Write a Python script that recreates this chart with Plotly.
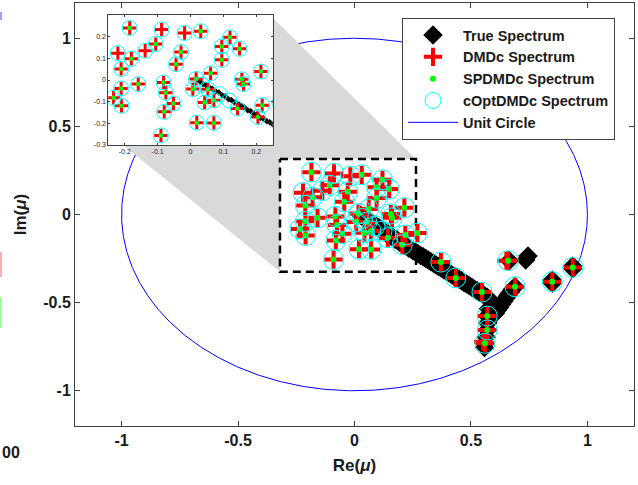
import numpy as np
import plotly.graph_objects as go

# ---------------------------------------------------------------------------
# Eigenvalue data (real / imaginary parts)
# ---------------------------------------------------------------------------

# True spectrum: dense band of eigenvalues plus isolated ones
true_re = [0.028, 0.038, 0.047, 0.058, 0.066, 0.077, 0.086, 0.097, 0.105, 0.116,
           0.124, 0.135, 0.144, 0.155, 0.163, 0.174, 0.183, 0.193, 0.202, 0.213,
           0.221, 0.232, 0.241, 0.251, 0.262, 0.273, 0.284, 0.295, 0.306, 0.317,
           0.328, 0.339, 0.350, 0.361, 0.372, 0.383, 0.394, 0.405, 0.416, 0.427,
           0.438, 0.449, 0.460, 0.471, 0.482, 0.493, 0.504, 0.515, 0.526, 0.537,
           0.548, 0.559, 0.570, 0.580,
           0.575, 0.570, 0.572, 0.570, 0.565, 0.560, 0.558,
           0.605, 0.614, 0.623, 0.632, 0.641, 0.650, 0.659, 0.668, 0.677, 0.689,
           0.665, 0.735, 0.745, 0.849, 0.849, 0.937, 0.937]
true_im = [-0.006, -0.018, -0.023, -0.036, -0.040, -0.053, -0.058, -0.071, -0.075, -0.089,
           -0.092, -0.105, -0.110, -0.122, -0.126, -0.140, -0.144, -0.157, -0.160, -0.174,
           -0.178, -0.190, -0.195, -0.205, -0.213, -0.222, -0.232, -0.240, -0.250, -0.258,
           -0.268, -0.277, -0.286, -0.295, -0.303, -0.314, -0.322, -0.331, -0.340, -0.350,
           -0.358, -0.368, -0.376, -0.387, -0.395, -0.404, -0.413, -0.424, -0.431, -0.442,
           -0.450, -0.461, -0.470, -0.482,
           -0.535, -0.576, -0.615, -0.655, -0.695, -0.731, -0.755,
           -0.560, -0.542, -0.526, -0.508, -0.492, -0.475, -0.458, -0.443, -0.426, -0.410,
           -0.262, -0.258, -0.235, -0.372, -0.390, -0.292, -0.308]

# Identified eigenvalues shared by the estimators (cluster near the origin)
core_re = [-0.185, 0.031, -0.180, -0.106, -0.029, -0.044, -0.211, 0.120, 0.095, 0.149,
           0.095, 0.214, 0.061, 0.017, 0.156, 0.161, -0.211, -0.159, -0.082, -0.075,
           -0.052, -0.080, -0.234, -0.210, -0.090, 0.007, 0.053, 0.043, 0.071, 0.019,
           0.071, 0.143, 0.218, 0.205, 0.270,
           0.371, 0.435, 0.547, 0.570, 0.570, 0.560, 0.660, 0.689, 0.849, 0.937]
core_im = [0.240, 0.225, 0.098, 0.166, 0.129, 0.073, 0.051, 0.197, 0.155, 0.144,
           0.093, 0.039, 0.031, 0.005, 0.003, -0.019, -0.039, -0.019, -0.011, -0.059,
           -0.109, -0.147, -0.082, -0.119, -0.256, -0.042, -0.043, -0.104, -0.093, -0.197,
           -0.198, -0.132, -0.116, -0.171, -0.105,
           -0.270, -0.360, -0.440, -0.576, -0.655, -0.731, -0.262, -0.410, -0.381, -0.300]

# Eigenvalues found by DMDc / cOptDMDc but dropped by the sparsity-promoting fit
extra_re = [-0.088, -0.018, -0.221, -0.138]
extra_im = [0.233, 0.217, 0.124, 0.135]

# Additional cOptDMDc eigenvalues lying on the true band
copt_only_re = [0.035, 0.088, 0.118]
copt_only_im = [-0.022, -0.065, -0.095]

# DMDc estimates that are slightly shifted from the other two
dmdc_shift_re = [0.652, 0.552]
dmdc_shift_im = [-0.262, -0.722]

dmdc_re = core_re + extra_re + dmdc_shift_re
dmdc_im = core_im + extra_im + dmdc_shift_im
spdmdc_re = core_re
spdmdc_im = core_im
copt_re = core_re + extra_re + copt_only_re
copt_im = core_im + extra_im + copt_only_im

# Axis ticks
main_ticks = [-1, -0.5, 0, 0.5, 1]
main_ticktext = ["-1", "-0.5", "0", "0.5", "1"]
inset_xticks = [-0.2, -0.1, 0, 0.1, 0.2]
inset_xticktext = ["-0.2", "-0.1", "0", "0.1", "0.2"]
inset_yticks = [-0.3, -0.2, -0.1, 0, 0.1, 0.2]
inset_yticktext = ["-0.3", "-0.2", "-0.1", "0", "0.1", "0.2"]

# ---------------------------------------------------------------------------
# Styling
# ---------------------------------------------------------------------------
FONT = "Liberation Sans, Arial, sans-serif"
INK = "#1a1a1a"
FRAME = "#404040"
RED, GREEN, CYAN, BLUE = "#ff0000", "#00ff00", "#00ffff", "#0000ff"

W, H = 638, 485
ML, MR, MT, MB = 75, 4, 3, 59

# zoom window drawn on the main axes and the inset's view
box_x = (-0.32, 0.264)
box_y = (-0.325, 0.315)
inset_xrange = [-0.25, 0.25]
inset_yrange = [-0.3, 0.3]
inset_dom_x = [0.0596, 0.3537]
inset_dom_y = [0.6643, 0.9716]
# corners of the inset expressed in main-axis data units (for the connector)
inset_tr = (-0.350, 1.115)
inset_bl = (-1.02, 0.423)

fig = go.Figure()

# unit circle
theta = np.linspace(0, 2 * np.pi, 721)
fig.add_trace(go.Scatter(
    x=np.cos(theta), y=np.sin(theta), mode="lines",
    line=dict(color=BLUE, width=1), name="Unit Circle",
    legendrank=5, hoverinfo="skip"))

# gray connector between the inset and the zoom window
fig.add_trace(go.Scatter(
    x=[inset_tr[0], box_x[1], box_x[0], box_x[0], inset_bl[0], inset_tr[0]],
    y=[inset_tr[1], box_y[1], box_y[1], box_y[0], inset_bl[1], inset_tr[1]],
    mode="lines", fill="toself", fillcolor="#d9d9d9",
    line=dict(width=0, color="#d9d9d9"), showlegend=False, hoverinfo="skip"))

# dashed zoom window
fig.add_trace(go.Scatter(
    x=[box_x[0], box_x[1], box_x[1], box_x[0], box_x[0]],
    y=[box_y[1], box_y[1], box_y[0], box_y[0], box_y[1]],
    mode="lines", line=dict(color="black", width=2.5, dash="8px,5px"),
    showlegend=False, hoverinfo="skip"))


def add_spectra(xa, ya, sizes, show):
    d_size, p_size, p_w, g_size, c_size = sizes
    fig.add_trace(go.Scatter(
        x=true_re, y=true_im, mode="markers", name="True Spectrum",
        marker=dict(symbol="diamond", size=d_size, color="black",
                    line=dict(width=0)),
        xaxis=xa, yaxis=ya, showlegend=show, legendrank=1))
    fig.add_trace(go.Scatter(
        x=dmdc_re, y=dmdc_im, mode="markers", name="DMDc Spectrum",
        marker=dict(symbol="cross-thin", size=p_size, color=RED,
                    line=dict(width=p_w, color=RED)),
        xaxis=xa, yaxis=ya, showlegend=show, legendrank=2))
    fig.add_trace(go.Scatter(
        x=spdmdc_re, y=spdmdc_im, mode="markers", name="SPDMDc Spectrum",
        marker=dict(symbol="circle", size=g_size, color=GREEN,
                    line=dict(width=0)),
        xaxis=xa, yaxis=ya, showlegend=show, legendrank=3))
    fig.add_trace(go.Scatter(
        x=copt_re, y=copt_im, mode="markers", name="cOptDMDc Spectrum",
        marker=dict(symbol="circle-open", size=c_size, color=CYAN,
                    line=dict(width=1, color=CYAN)),
        xaxis=xa, yaxis=ya, showlegend=show, legendrank=4))


add_spectra("x", "y", (15, 13, 4, 6, 20), True)
add_spectra("x2", "y2", (5, 9.5, 3, 4.5, 15), False)

axis_common = dict(
    showgrid=False, zeroline=False, showline=True, linecolor=FRAME,
    linewidth=1, mirror="ticks", ticks="inside", tickcolor=FRAME)

fig.update_layout(
    width=W, height=H,
    margin=dict(l=ML, r=MR, t=MT, b=MB, autoexpand=False),
    paper_bgcolor="white", plot_bgcolor="white",
    font=dict(family=FONT, color=INK),
    showlegend=True,
    legend=dict(
        x=0.585, y=0.9645, xanchor="left", yanchor="top",
        bgcolor="white", bordercolor=FRAME, borderwidth=1,
        font=dict(family=FONT, size=14.5, color=INK, weight="bold"),
        itemwidth=50, traceorder="normal"),
    xaxis=dict(
        range=[-1.2, 1.2], tickvals=main_ticks, ticktext=main_ticktext,
        ticklen=5, tickfont=dict(size=16, weight="bold", color=INK),
        title=dict(text="Re(<i>μ</i>)", standoff=10,
                   font=dict(size=17, weight="bold", color=INK)),
        **axis_common),
    yaxis=dict(
        range=[-1.2, 1.2], tickvals=main_ticks, ticktext=main_ticktext,
        ticklen=5, tickfont=dict(size=16, weight="bold", color=INK),
        title=dict(text="Im(<i>μ</i>)", standoff=12,
                   font=dict(size=17, weight="bold", color=INK)),
        **axis_common),
    xaxis2=dict(
        domain=inset_dom_x, anchor="y2", range=inset_xrange,
        tickvals=inset_xticks, ticktext=inset_xticktext, ticklen=2,
        tickfont=dict(size=7, color=INK), **axis_common),
    yaxis2=dict(
        domain=inset_dom_y, anchor="x2", range=inset_yrange,
        tickvals=inset_yticks, ticktext=inset_yticktext, ticklen=2,
        tickfont=dict(size=7, color=INK), **axis_common),
)

# fragments of the neighbouring panel visible at the left edge
pw = W - ML - MR
ph = H - MT - MB


def px_x(v):
    return (v - ML) / pw


def px_y(v):
    return (H - MB - v) / ph


for col, y0, y1 in [("#a0a0ff", 12, 20), ("#ffb0b0", 252, 277), ("#a0ffa0", 297, 328)]:
    fig.add_shape(type="rect", xref="paper", yref="paper",
                  x0=px_x(0), x1=px_x(2), y0=px_y(y1), y1=px_y(y0),
                  line=dict(width=0), fillcolor=col, layer="above")
fig.add_annotation(text="00", xref="paper", yref="paper", x=px_x(0), y=px_y(452),
                   xanchor="left", yanchor="middle", showarrow=False,
                   font=dict(family=FONT, size=16, weight="bold", color=INK))

fig.write_html("out.html")
